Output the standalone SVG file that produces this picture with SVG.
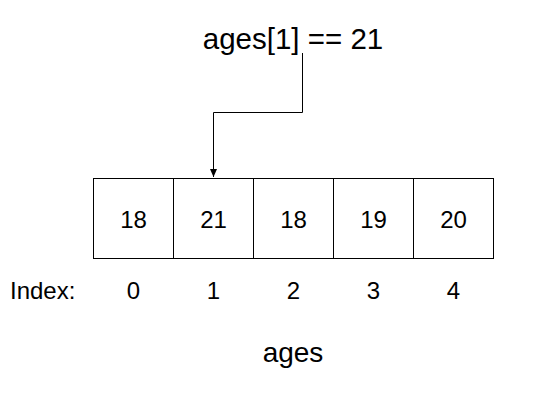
<svg xmlns="http://www.w3.org/2000/svg" width="546" height="400" viewBox="0 0 546 400">
<defs>
<marker id="arr" markerWidth="9" markerHeight="9" refX="8" refY="4.5" orient="auto" markerUnits="userSpaceOnUse">
<path d="M0,1 L8,4.5 L0,8 Z" fill="#000"/>
</marker>
<style>
text{font-family:"Liberation Sans",Arial,sans-serif;fill:#000}
.cell rect{fill:#fff;stroke:#000;stroke-width:1}
.cell text,.idx{font-size:24px;text-anchor:middle}
.conn{fill:none;stroke:#000;stroke-width:1}
</style>
</defs>
<rect width="546" height="400" fill="#fff"/>
<g id="title"><text x="293" y="49" font-size="29.5" text-anchor="middle">ages[1] == 21</text></g>
<g id="connectors"><path class="conn" d="M302.5,53 V112.5 H213.5 V177" marker-end="url(#arr)"/></g>
<g id="cell0" class="cell"><rect x="93.5" y="178.5" width="80" height="80"/><text x="133.5" y="228">18</text></g>
<g id="cell1" class="cell"><rect x="173.5" y="178.5" width="80" height="80"/><text x="213.5" y="228">21</text></g>
<g id="cell2" class="cell"><rect x="253.5" y="178.5" width="80" height="80"/><text x="293.5" y="228">18</text></g>
<g id="cell3" class="cell"><rect x="333.5" y="178.5" width="80" height="80"/><text x="373.5" y="228">19</text></g>
<g id="cell4" class="cell"><rect x="413.5" y="178.5" width="80" height="80"/><text x="453.5" y="228">20</text></g>
<g id="index">
<text x="10" y="299" font-size="24">Index:</text>
<text class="idx" x="133.5" y="299">0</text>
<text class="idx" x="213.5" y="299">1</text>
<text class="idx" x="293.5" y="299">2</text>
<text class="idx" x="373.5" y="299">3</text>
<text class="idx" x="453.5" y="299">4</text>
</g>
<g id="label"><text x="293" y="362" font-size="28" text-anchor="middle">ages</text></g>
</svg>
